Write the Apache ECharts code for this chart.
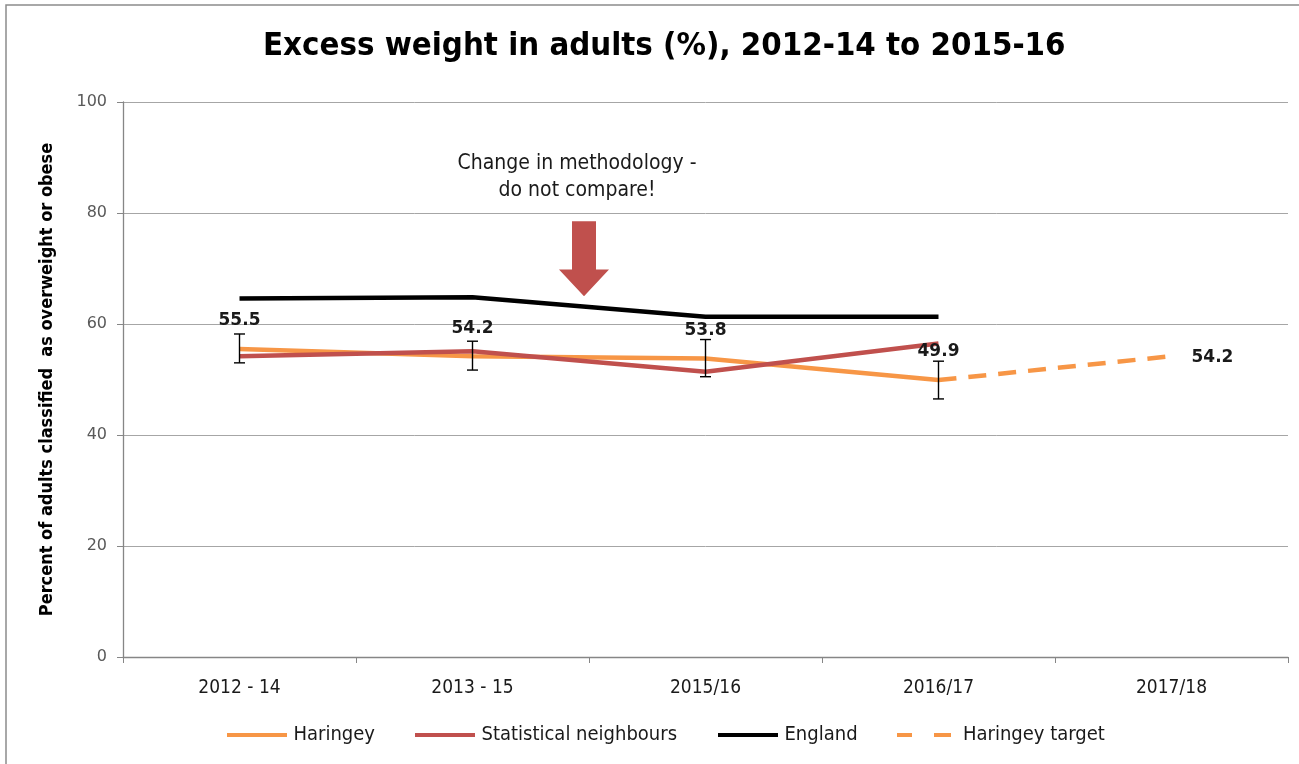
<!DOCTYPE html>
<html>
<head>
<meta charset="utf-8">
<script src="https://cdn.jsdelivr.net/npm/echarts@6/dist/echarts.min.js"></script>
<style>
html,body{margin:0;padding:0;background:#fff;}
#main{width:1299px;height:764px;}
</style>
</head>
<body>
<div id="main"></div>
<script>
var categories = ['2012 - 14', '2013 - 15', '2015/16', '2016/17', '2017/18'];
var yTicks = [0, 20, 40, 60, 80, 100];
var haringey = [55.5, 54.2, 53.8, 49.9, null];
var haringeyLow = [53.0, 51.7, 50.5, 46.5];
var haringeyHigh = [58.2, 56.9, 57.2, 53.3];
var neighbours = [54.2, 55.1, 51.4, 56.5, null];
var england = [64.6, 64.8, 61.3, 61.3, null];
var target = [null, null, null, 49.9, 54.2];
var titleText = 'Excess weight in adults (%), 2012-14 to 2015-16';
var noteText = 'Change in methodology -\ndo not compare!';
var yName = 'Percent of adults classified  as overweight or obese';

var FONT = '"Liberation Sans Narrow", "DejaVu Sans Condensed", sans-serif';
var NUMFONT = '"DejaVu Sans", sans-serif';
var ORANGE = '#F79646', RED = '#C0504D';

var chart = echarts.init(document.getElementById('main'));

var errData = haringeyLow.map(function (lo, i) { return [i, lo, haringeyHigh[i]]; });
var labelData = [];
haringey.forEach(function (v, i) { if (v != null) labelData.push([i, v, 0]); });
labelData.push([target.length - 1, target[target.length - 1], 1]);

var SOLID = 'path://M0,0H60V4H0Z';
var DASHED = 'path://M0,0H15V4H0Z M37,0H54V4H37Z';

function legendFor(name, left, icon, w, pad) {
  return {
    data: [{ name: name, icon: icon }], left: left, top: 720, itemWidth: w, itemHeight: 4, itemGap: 0,
    itemStyle: { borderWidth: 0 },
    textStyle: { fontFamily: FONT, fontSize: 20, color: '#1a1a1a', padding: [0, 0, 0, pad] },
    selectedMode: false
  };
}

chart.setOption({
  backgroundColor: '#fff',
  animation: false,
  title: {
    text: titleText, left: 258, top: 25,
    textStyle: { fontFamily: FONT, fontWeight: 'bold', fontSize: 32.7, color: '#000' }
  },
  legend: [
    legendFor('Haringey', 222, SOLID, 61, 1),
    legendFor('Statistical neighbours', 410, SOLID, 61, 1),
    legendFor('England', 713, SOLID, 61, 1),
    legendFor('Haringey target', 892, DASHED, 54, 7)
  ],
  grid: { left: 123, right: 11, top: 102, bottom: 107, containLabel: false },
  xAxis: {
    type: 'category', data: categories, boundaryGap: true,
    axisLine: { lineStyle: { color: '#868686', width: 1.3 } },
    axisTick: { show: true, length: 6, lineStyle: { color: '#868686' } },
    axisLabel: { fontFamily: FONT, fontSize: 19, color: '#1a1a1a', margin: 22 }
  },
  yAxis: {
    type: 'value', min: 0, max: 100, interval: 20,
    name: yName, nameLocation: 'middle', nameGap: 67, nameRotate: 90,
    nameTextStyle: { fontFamily: FONT, fontWeight: 'bold', fontSize: 18, color: '#000' },
    axisLine: { show: true, lineStyle: { color: '#868686', width: 1.3 } },
    axisTick: { show: true, length: 6, lineStyle: { color: '#868686' } },
    axisLabel: { fontFamily: NUMFONT, fontSize: 16, color: '#595959', margin: 16,
      formatter: function (v) { return yTicks.indexOf(v) >= 0 ? String(v) : ''; } },
    splitLine: { lineStyle: { color: '#a6a6a6', width: 1 } }
  },
  series: [
    {
      name: 'Haringey', type: 'line', data: haringey, symbol: 'none', z: 3,
      lineStyle: { color: ORANGE, width: 4.5 }, itemStyle: { color: ORANGE }
    },
    {
      name: 'Statistical neighbours', type: 'line', data: neighbours, symbol: 'none', z: 4,
      lineStyle: { color: RED, width: 4.5 }, itemStyle: { color: RED }
    },
    {
      name: 'England', type: 'line', data: england, symbol: 'none', z: 4,
      lineStyle: { color: '#000', width: 4.5 }, itemStyle: { color: '#000' }
    },
    {
      name: 'Haringey target', type: 'line', data: target, symbol: 'none', z: 3,
      lineStyle: { color: ORANGE, width: 4.5, type: [18, 12] }, itemStyle: { color: ORANGE }
    },
    {
      name: 'errors', type: 'custom', z: 6, data: errData,
      renderItem: function (params, api) {
        var x = api.value(0);
        var lo = api.coord([x, api.value(1)]);
        var hi = api.coord([x, api.value(2)]);
        var cap = 5.5;
        var st = { stroke: '#000', lineWidth: 1.4 };
        return {
          type: 'group', children: [
            { type: 'line', shape: { x1: hi[0], y1: hi[1], x2: lo[0], y2: lo[1] }, style: st },
            { type: 'line', shape: { x1: hi[0] - cap, y1: hi[1], x2: hi[0] + cap, y2: hi[1] }, style: st },
            { type: 'line', shape: { x1: lo[0] - cap, y1: lo[1], x2: lo[0] + cap, y2: lo[1] }, style: st }
          ]
        };
      }
    },
    {
      name: 'labels', type: 'custom', z: 7, data: labelData,
      renderItem: function (params, api) {
        var v = api.value(1);
        var p = api.coord([api.value(0), v]);
        var right = api.value(2) === 1;
        return {
          type: 'text',
          x: right ? p[0] + 20 : p[0],
          y: right ? p[1] + 1 : p[1] - 28,
          style: { text: v.toFixed(1), fontFamily: NUMFONT, fontWeight: 'bold', fontSize: 17,
            fill: '#1a1a1a', align: right ? 'left' : 'center', verticalAlign: 'middle' }
        };
      }
    }
  ]
});

// annotation: placed between categories 1 and 2
var p1 = chart.convertToPixel({ gridIndex: 0 }, [1, 80]);
var p2 = chart.convertToPixel({ gridIndex: 0 }, [2, 80]);
var cx = (p1[0] + p2[0]) / 2 - 5;
var yTop = chart.convertToPixel({ gridIndex: 0 }, [1, 78.5])[1];
var yHeadStart = chart.convertToPixel({ gridIndex: 0 }, [1, 69.8])[1];
var yTip = chart.convertToPixel({ gridIndex: 0 }, [1, 65.0])[1];
chart.setOption({
  graphic: [
    { type: 'rect', shape: { x: 6, y: 5, width: 1400, height: 900 }, silent: true,
      style: { fill: 'none', stroke: '#8c8c8c', lineWidth: 1.5 }, z: 100 },
    { type: 'text', x: cx - 7, y: 177, style: { text: noteText, fontFamily: FONT, fontSize: 21,
      fill: '#1a1a1a', align: 'center', verticalAlign: 'middle', lineHeight: 27 }, z: 100 },
    { type: 'polygon', z: 100, shape: { points: [
      [cx - 12, yTop], [cx + 12, yTop], [cx + 12, yHeadStart], [cx + 25, yHeadStart],
      [cx, yTip], [cx - 25, yHeadStart], [cx - 12, yHeadStart]
    ] }, style: { fill: RED } }
  ]
});
</script>
</body>
</html>
